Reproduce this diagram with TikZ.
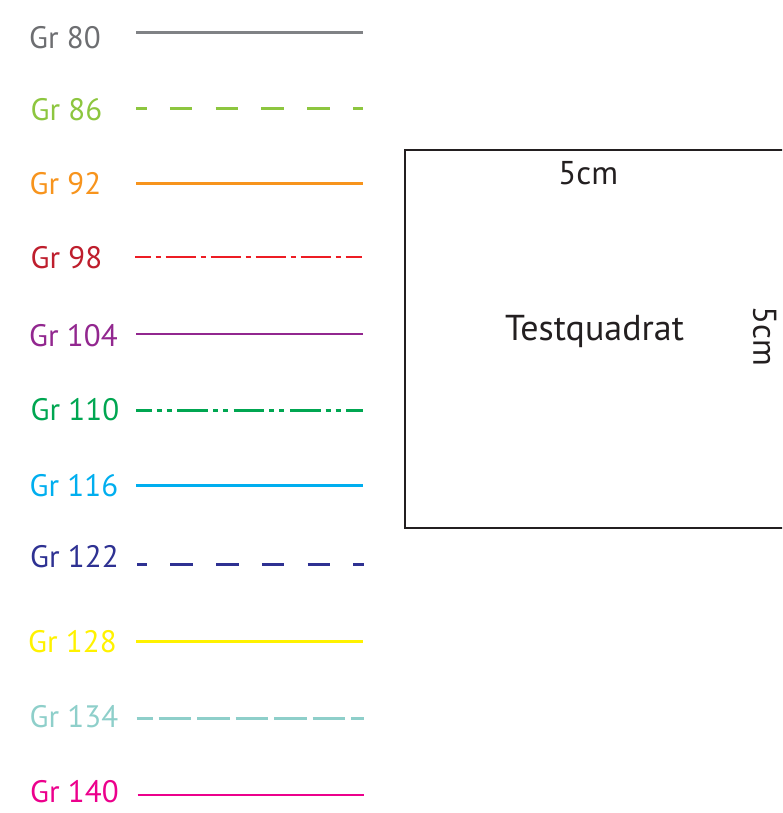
\documentclass[tikz,border=0pt]{standalone}
\usepackage{fontspec}
\setmainfont{PT Sans}
\usepackage{xcolor}
\usepackage{tikz}
\usetikzlibrary{positioning}

\definecolor{gris}{HTML}{6D6E71}
\definecolor{grisligne}{HTML}{808285}
\definecolor{vertclair}{HTML}{8DC63F}
\definecolor{orange}{HTML}{F7941D}
\definecolor{rougetexte}{HTML}{BE1E2D}
\definecolor{rouge}{HTML}{ED1C24}
\definecolor{violet}{HTML}{92278F}
\definecolor{vert}{HTML}{00A651}
\definecolor{cyan}{HTML}{00AEEF}
\definecolor{bleu}{HTML}{2E3192}
\definecolor{jaune}{HTML}{FFF200}
\definecolor{turquoise}{HTML}{8ECFCA}
\definecolor{magenta}{HTML}{EC008C}
\definecolor{noir}{HTML}{231F20}

\begin{document}
\begin{tikzpicture}[x=1pt, y=-1pt,
    legende/.style={anchor=base west, inner sep=0pt, font=\fontsize{31}{31}\selectfont},
    texte/.style={anchor=base, inner sep=0pt, text=noir, font=\fontsize{33}{33}\selectfont},
    trait/.style={line width=2.8pt},
    tirets/.style={trait, dash pattern=on 22.5pt off 23.3pt, dash phase=12pt},
    cadre/.style={draw=noir, line width=2.3pt}]
                % Cadre
                \useasboundingbox (0,0) rectangle (782,813);
                \clip (0,0) rectangle (782,813);

                % Points
                \coordinate (debut80) at (136,32.7);
                \coordinate (fin80) at (363,32.7);
                \coordinate (debut86) at (136,108.3);
                \coordinate (fin86) at (363,108.3);
                \coordinate (debut92) at (136,183.5);
                \coordinate (fin92) at (363,183.5);
                \coordinate (debut98) at (135,257);
                \coordinate (fin98) at (362,257);
                \coordinate (debut104) at (136,334);
                \coordinate (fin104) at (363,334);
                \coordinate (debut110) at (136,410.5);
                \coordinate (fin110) at (363,410.5);
                \coordinate (debut116) at (136,485.5);
                \coordinate (fin116) at (363,485.5);
                \coordinate (debut122) at (137,564.3);
                \coordinate (fin122) at (364,564.3);
                \coordinate (debut128) at (136,641.5);
                \coordinate (fin128) at (363,641.5);
                \coordinate (debut134) at (136.5,718.3);
                \coordinate (fin134) at (363.5,718.3);
                \coordinate (debut140) at (137.7,795);
                \coordinate (fin140) at (364,795);

                % Legende
                \node[legende, text=gris] (gr80) at (29,48.3) {Gr 80};
                \node[legende, text=vertclair] (gr86) at (30.5,120.7) {Gr 86};
                \node[legende, text=orange] (gr92) at (29.5,194) {Gr 92};
                \node[legende, text=rougetexte] (gr98) at (30.5,268.3) {Gr 98};
                \node[legende, text=violet] (gr104) at (29,346) {Gr 104};
                \node[legende, text=vert] (gr110) at (30.5,420) {Gr 110};
                \node[legende, text=cyan] (gr116) at (29.5,496.7) {Gr 116};
                \node[legende, text=bleu] (gr122) at (30,567.3) {Gr 122};
                \node[legende, text=jaune] (gr128) at (28,652.7) {Gr 128};
                \node[legende, text=turquoise] (gr134) at (29.5,727.3) {Gr 134};
                \node[legende, text=magenta] (gr140) at (30,802.7) {Gr 140};

                % Dessin des traits
                \draw[trait, grisligne] (debut80) -- (fin80);
                \draw[tirets, vertclair] (debut86) -- (fin86);
                \draw[trait, orange] (debut92) -- (fin92);
                \draw[trait, rouge, dash pattern=on 30pt off 5pt on 5pt off 5pt, dash phase=14.3pt] (debut98) -- (fin98);
                \draw[trait, violet] (debut104) -- (fin104);
                \draw[trait, vert, dash pattern=on 30.7pt off 5pt on 5pt off 5pt on 5pt off 5.6pt, dash phase=15pt] (debut110) -- (fin110);
                \draw[trait, cyan] (debut116) -- (fin116);
                \draw[tirets, bleu, dash phase=12.6pt] (debut122) -- (fin122);
                \draw[trait, jaune] (debut128) -- (fin128);
                \draw[trait, turquoise, dash pattern=on 32.3pt off 6.2pt, dash phase=16.3pt] (debut134) -- (fin134);
                \draw[trait, magenta] (debut140) -- (fin140);

                % Testquadrat
                \draw[cadre] (405,150) rectangle (800,528.3);
                \node[texte] (cote) at (588.3,185) {5cm};
                \node[texte, font=\fontsize{36}{36}\selectfont] (quadrat) at (594.5,340) {Testquadrat};
                \node[texte, rotate=-90] (hauteur) at (753.3,336.7) {5cm};
\end{tikzpicture}
\end{document}
